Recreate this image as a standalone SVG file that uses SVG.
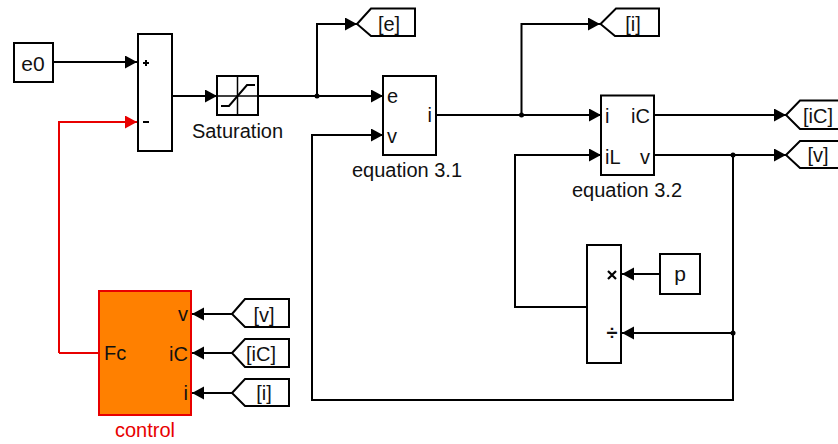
<svg xmlns="http://www.w3.org/2000/svg" width="838" height="444" viewBox="0 0 838 444">
<defs>
<marker id="a" markerUnits="userSpaceOnUse" markerWidth="13" markerHeight="14" refX="12" refY="6.500" orient="auto"><path d="M0 0L12 6.500L0 13Z" fill="#000"/></marker>
<marker id="r" markerUnits="userSpaceOnUse" markerWidth="13" markerHeight="14" refX="12" refY="6.500" orient="auto"><path d="M0 0L12 6.500L0 13Z" fill="#e80000"/></marker>
</defs>
<style>
.b{fill:#fff;stroke:#000;stroke-width:2}
.w{fill:none;stroke:#000;stroke-width:2;marker-end:url(#a)}
.n{fill:none;stroke:#000;stroke-width:2}
.t{font-family:"Liberation Sans",Arial,sans-serif;font-size:20px;fill:#111}
.m{text-anchor:middle}
.e{text-anchor:end}
</style>
<rect width="838" height="444" fill="#fff"/>
<g id="connectors">
<path class="w" d="M53 62H137"/>
<path d="M59 353V122H137" fill="none" stroke="#e80000" stroke-width="2" marker-end="url(#r)"/>
<path d="M99 353H59" fill="none" stroke="#e80000" stroke-width="2"/>
<path class="w" d="M172 96H217"/>
<path class="n" d="M258 96H317"/>
<path class="w" d="M317 96H383"/>
<path class="w" d="M317 96V24H357"/>
<path class="w" d="M436 115H601"/>
<path class="w" d="M521.500 115V24H600"/>
<path class="w" d="M654 115H786"/>
<path class="w" d="M654 155H786"/>
<path class="w" d="M733 155V400H312V135H383"/>
<path class="w" d="M587 307H515V155H601"/>
<path class="w" d="M660 274H622"/>
<path class="w" d="M733 333H622"/>
<path class="w" d="M232 314H192"/>
<path class="w" d="M232 353H192"/>
<path class="w" d="M232 393H192"/>
<circle cx="317" cy="96" r="2.500"/>
<circle cx="521.500" cy="115" r="2.500"/>
<circle cx="733" cy="155" r="2.500"/>
<circle cx="733" cy="333" r="2.500"/>
</g>
<g id="e0"><rect class="b" x="14" y="43" width="39" height="39"/><text class="t m" x="33" y="71" style="font-size:21px">e0</text></g>
<g id="sum"><rect class="b" x="138" y="34" width="34" height="117"/><path d="M143 63H149M146 60V66M143 122H149" fill="none" stroke="#000" stroke-width="2"/></g>
<g id="saturation"><rect class="b" x="217" y="76" width="41" height="39"/><path d="M237.500 76V115M217 96H258" stroke="#000" stroke-width="1.500" fill="none"/><path d="M221 106H229L247 85H255" fill="none" stroke="#000" stroke-width="2"/><text class="t m" x="237.500" y="138">Saturation</text></g>
<g id="goto-e"><path class="b" d="M357 24L371 8.500H415V36H371Z"/><text class="t m" x="389" y="31">[e]</text></g>
<g id="equation-3-1"><rect class="b" x="383" y="76" width="53" height="79"/><text class="t" x="387" y="103">e</text><text class="t" x="387" y="143">v</text><text class="t e" x="432" y="122">i</text><text class="t m" x="407" y="177">equation 3.1</text></g>
<g id="goto-i"><path class="b" d="M600.500 24L616 8.500H659V36H615Z"/><text class="t m" x="633" y="31">[i]</text></g>
<g id="equation-3-2"><rect class="b" x="601" y="95.500" width="53" height="79.500"/><text class="t" x="605" y="123">i</text><text class="t" x="605" y="164">iL</text><text class="t e" x="650" y="123">iC</text><text class="t e" x="650" y="164">v</text><text class="t m" x="627" y="197">equation 3.2</text></g>
<g id="goto-ic"><path class="b" d="M786 115L800 100.500H840V129H800Z"/><text class="t m" x="818" y="123">[iC]</text></g>
<g id="goto-v"><path class="b" d="M786 155L800 141H840V168H800Z"/><text class="t m" x="818" y="162">[v]</text></g>
<g id="product"><rect class="b" x="587" y="245" width="34" height="118"/><path d="M608 271L616 279M616 271L608 279" stroke="#000" stroke-width="2.200" fill="none"/><text class="t m" x="612" y="340" style="font-weight:bold">÷</text></g>
<g id="p"><rect class="b" x="660" y="254" width="40" height="40"/><text class="t m" x="680" y="281" style="font-size:21px">p</text></g>
<g id="control"><rect x="99" y="291" width="92" height="124" fill="#ff8000" stroke="#e80000" stroke-width="2"/><text class="t" x="104" y="360">Fc</text><text class="t e" x="188" y="321">v</text><text class="t e" x="188" y="361">iC</text><text class="t e" x="188" y="400">i</text><text class="t m" x="145" y="437" style="fill:#e80000">control</text></g>
<g id="from-v"><path class="b" d="M232 314L245 299H289V327H245Z"/><text class="t m" x="264" y="322">[v]</text></g>
<g id="from-ic"><path class="b" d="M232 353L245 339H289V367H245Z"/><text class="t m" x="261" y="361">[iC]</text></g>
<g id="from-i"><path class="b" d="M232 393L245 379H289V406H245Z"/><text class="t m" x="264" y="400">[i]</text></g>
</svg>
